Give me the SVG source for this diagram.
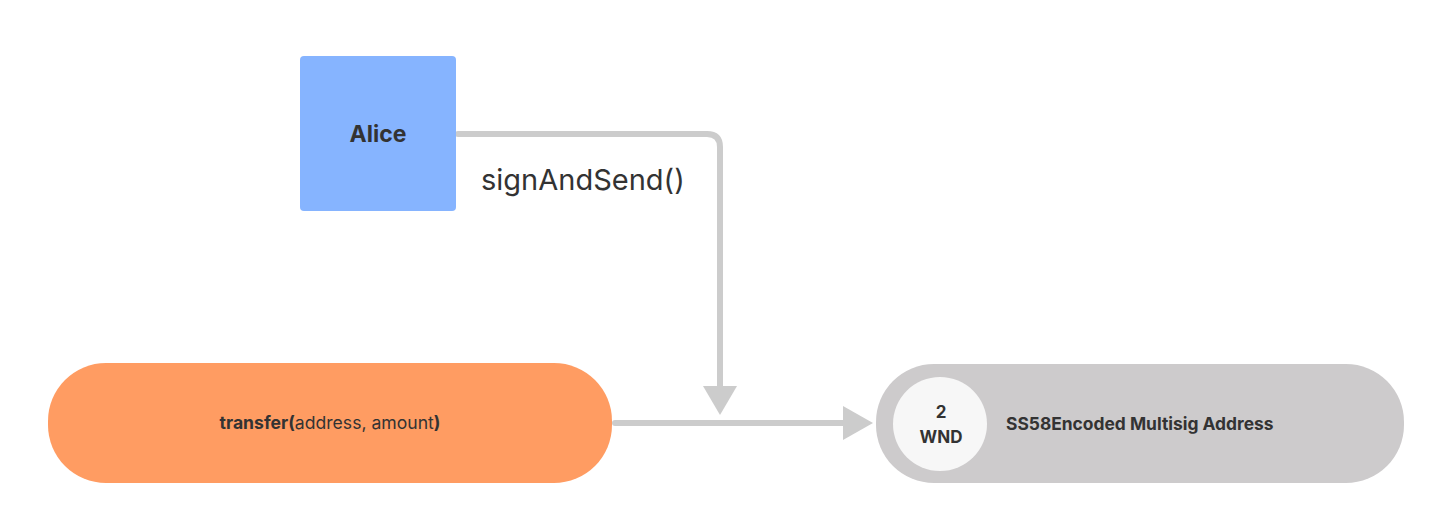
<svg xmlns="http://www.w3.org/2000/svg" width="1454" height="523" viewBox="0 0 1454 523">
<style>
.t{font-family:Inter,"Liberation Sans",sans-serif;fill:#333333}
.b{font-weight:700}
.c{fill:none;stroke:#cccccc;stroke-width:6;stroke-linecap:round}
.h{fill:#cccccc}
</style>
<rect width="1454" height="523" fill="#ffffff"/>
<g id="connectors">
<path class="c" d="M458 134 H707 Q720 134 720 147 V390"/>
<polygon class="h" points="703,386 737,386 720,415"/>
<path class="c" d="M615 423 H846"/>
<polygon class="h" points="843,406 873,423 843,440"/>
<text class="t" x="481" y="190" font-size="29">signAndSend()</text>
</g>
<g id="alice">
<rect x="300" y="56" width="156" height="155" rx="4" fill="#86b4ff"/>
<text class="t b" x="378" y="142" font-size="23" text-anchor="middle">Alice</text>
</g>
<g id="transfer">
<rect x="48" y="363" width="564" height="120" rx="58" fill="#ff9c62"/>
<text class="t" x="330" y="429" font-size="17.6" text-anchor="middle"><tspan class="b">transfer(</tspan>address, amount<tspan class="b">)</tspan></text>
</g>
<g id="multisig">
<rect x="876" y="364" width="528" height="119" rx="58" fill="#cdcbcc"/>
<circle cx="940" cy="424" r="47" fill="#f7f7f7"/>
<text class="t b" x="941" y="418" font-size="17" text-anchor="middle">2</text>
<text class="t b" x="941" y="443" font-size="17" text-anchor="middle">WND</text>
<text class="t b" x="1006" y="430" font-size="17.4">SS58Encoded Multisig Address</text>
</g>
</svg>
